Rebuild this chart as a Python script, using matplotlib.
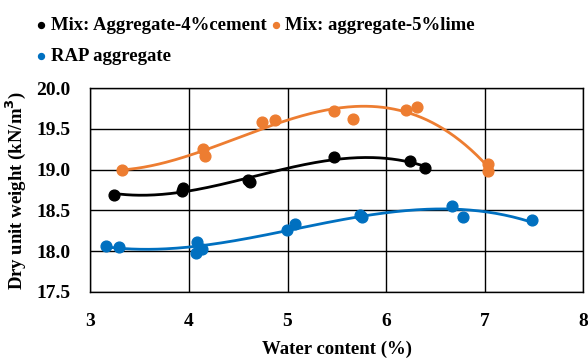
import numpy as np
import matplotlib.pyplot as plt

plt.rcParams['font.family'] = 'Liberation Serif'
plt.rcParams['font.weight'] = 'bold'

# Compaction test results: water content (%) vs dry unit weight (kN/m3)
cement_w = [3.24, 3.94, 3.93, 4.62, 4.60, 5.47, 6.24, 6.39]
cement_g = [18.69, 18.78, 18.74, 18.85, 18.87, 19.16, 19.11, 19.02]

lime_w = [3.32, 4.14, 4.16, 4.74, 4.87, 5.47, 5.66, 6.20, 6.31, 7.03, 7.03]
lime_g = [19.00, 19.25, 19.17, 19.58, 19.61, 19.72, 19.62, 19.73, 19.77, 19.07, 18.98]

rap_w = [3.16, 3.29, 4.08, 4.13, 4.07, 4.99, 5.08, 5.74, 5.76, 6.67, 6.78, 7.48]
rap_g = [18.06, 18.05, 18.11, 18.03, 17.97, 18.26, 18.33, 18.44, 18.42, 18.55, 18.42, 18.38]

series = [
    ('Mix: Aggregate-4%cement', cement_w, cement_g, 'black'),
    ('Mix: aggregate-5%lime', lime_w, lime_g, '#ED7D31'),
    ('RAP aggregate', rap_w, rap_g, '#0070C0'),
]

fig = plt.figure(figsize=(5.88, 3.58), dpi=100)
ax = fig.add_axes([90.3 / 588, 1 - 291.7 / 358, 493 / 588, 203.4 / 358])

handles = []
for label, w, g, c in series:
    w = np.array(w)
    g = np.array(g)
    # third-order polynomial trend line over the measured range
    coef = np.polyfit(w, g, 3)
    xs = np.linspace(w.min(), w.max(), 200)
    ax.plot(xs, np.polyval(coef, xs), color=c, lw=2, zorder=2)
    h = ax.scatter(w, g, s=60, color=c, zorder=3, label=label)
    handles.append(h)

ax.set_xlim(3, 8)
ax.set_ylim(17.5, 20.0)
ax.set_xticks(np.arange(3, 9, 1))
ax.set_yticks(np.arange(17.5, 20.01, 0.5))
ax.set_yticklabels([f'{v:.1f}' for v in np.arange(17.5, 20.01, 0.5)])
ax.grid(True, color='black', lw=1)
ax.tick_params(axis='y', length=0, labelsize=14, pad=14)
ax.tick_params(axis='x', length=0, labelsize=14, pad=15)
for s in ax.spines.values():
    s.set_color('black')
    s.set_linewidth(1)

ax.set_xlabel('Water content (%)', fontsize=13.5, fontweight='bold', labelpad=8)
ax.set_ylabel('Dry unit weight (kN/m$^\\mathbf{3}$)', fontsize=13.5, fontweight='bold', labelpad=6)

fig.legend(handles=[handles[0], handles[2], handles[1]],
           labels=[series[0][0], series[2][0], series[1][0]],
           ncol=2, loc='upper left', bbox_to_anchor=(15 / 588, 1.0),
           frameon=False, fontsize=13.5, markerscale=0.55,
           handletextpad=0.0, columnspacing=0.0, labelspacing=0.75,
           handlelength=1.0)

fig.savefig('out.png', dpi=100)
